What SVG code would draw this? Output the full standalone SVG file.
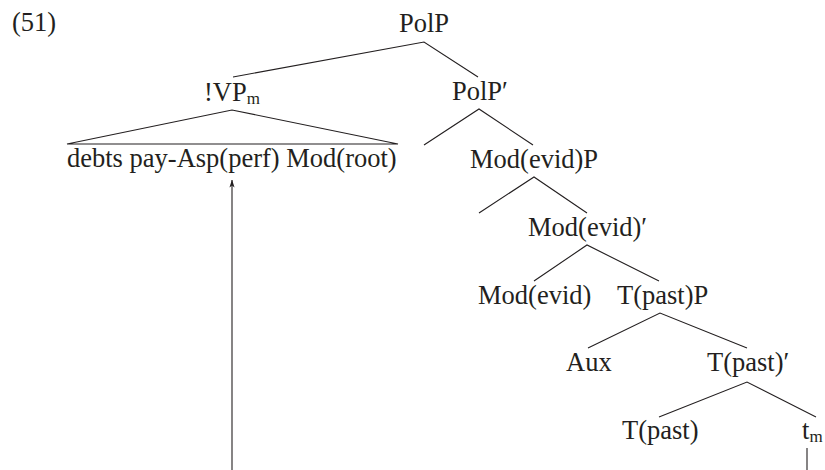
<svg xmlns="http://www.w3.org/2000/svg" width="825" height="470" viewBox="0 0 825 470">
<defs>
<style>
text{font-family:"Liberation Serif","Times New Roman",serif;font-size:26.5px;fill:#231f20}
.sub{font-size:17px}
.e{stroke:#231f20;stroke-width:1.1;fill:none}
</style>
<marker id="ah" viewBox="0 0 10 10" refX="9.5" refY="5" markerWidth="8" markerHeight="8" orient="auto" markerUnits="userSpaceOnUse">
<path d="M0,1.8 L10,5 L0,8.2 L2.5,5 Z" fill="#231f20"/>
</marker>
</defs>
<rect width="825" height="470" fill="#fff"/>
<text x="12" y="31">(51)</text>
<g id="connectors">
<polyline class="e" points="233,77 424,42 478,77"/>
<polygon class="e" points="67,144 232,110 398,144"/>
<polyline class="e" points="424,145 479,109 533,145"/>
<polyline class="e" points="479,213 534,177 587,213"/>
<polyline class="e" points="534,281 587,245 659,281"/>
<polyline class="e" points="588,348 660,313 747,348"/>
<polyline class="e" points="659,417 747,382 816,417"/>
<line class="e" x1="807" y1="448" x2="807" y2="470" stroke-width="1.3"/>
<line class="e" x1="232" y1="470" x2="232" y2="180" stroke-width="1.3" marker-end="url(#ah)"/>
</g>
<g id="PolP"><text x="399" y="32">PolP</text></g>
<g id="VPm"><text x="204" y="101">!VP<tspan class="sub" dy="2.5">m</tspan></text></g>
<g id="PolPbar"><text x="452" y="100">PolP′</text></g>
<g id="debts"><text x="67" y="167">debts pay-Asp(perf) Mod(root)</text></g>
<g id="ModEvidP"><text x="470" y="168">Mod(evid)P</text></g>
<g id="ModEvidBar"><text x="528" y="236">Mod(evid)′</text></g>
<g id="ModEvid"><text x="478" y="304">Mod(evid)</text></g>
<g id="TpastP"><text x="617" y="304">T(past)P</text></g>
<g id="Aux"><text x="566" y="371">Aux</text></g>
<g id="TpastBar"><text x="707" y="371">T(past)′</text></g>
<g id="Tpast"><text x="622" y="439">T(past)</text></g>
<g id="tm"><text x="802" y="439">t<tspan class="sub" dy="2.5">m</tspan></text></g>
</svg>
